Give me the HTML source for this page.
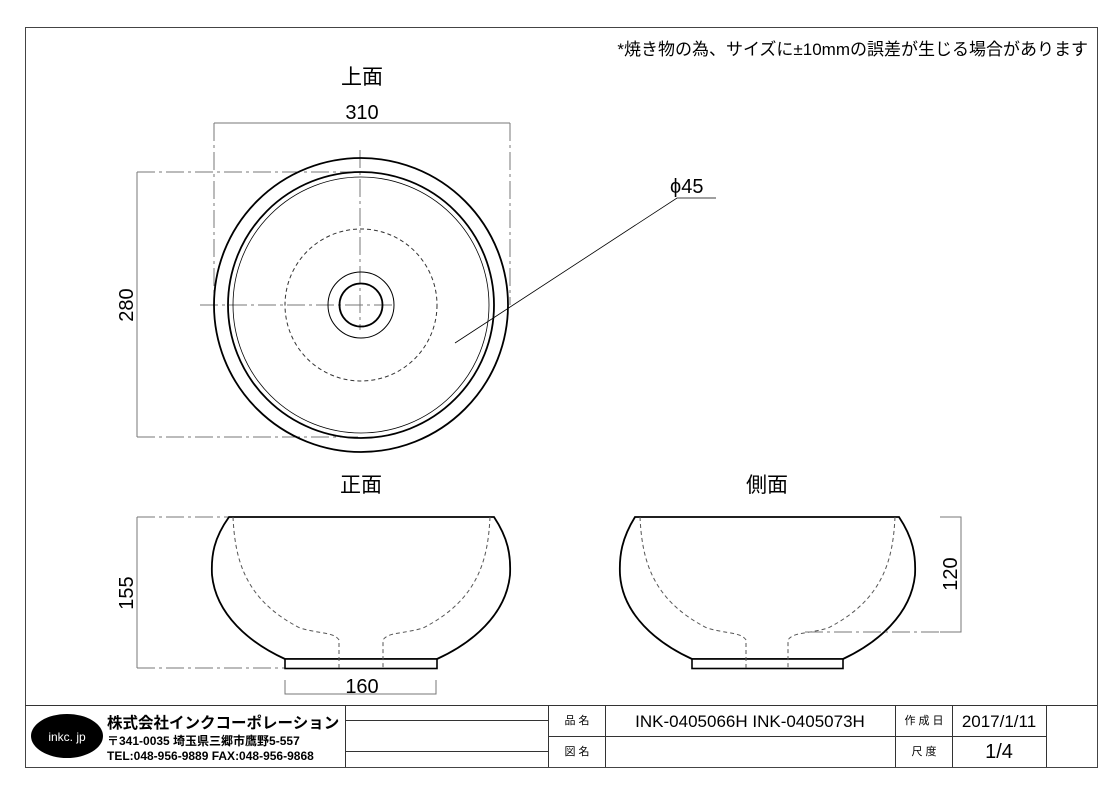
<!DOCTYPE html>
<html><head><meta charset="utf-8"><style>
body{margin:0;background:#fff}
svg{display:block}
text{font-family:"Liberation Sans","Noto Sans CJK JP",sans-serif;fill:#000}
</style></head><body>
<svg width="1120" height="792" viewBox="0 0 1120 792" xmlns="http://www.w3.org/2000/svg">
<rect x="0" y="0" width="1120" height="792" fill="#fff"/>
<rect x="25.5" y="27.5" width="1072" height="740" fill="none" stroke="#444" stroke-width="1"/>
<text x="1088" y="55" font-size="17" text-anchor="end">*焼き物の為、サイズに±10mmの誤差が生じる場合があります</text>

<text x="362" y="84" font-size="21" text-anchor="middle">上面</text>
<text x="362" y="119" font-size="20" text-anchor="middle">310</text>
<g stroke="#777" stroke-width="1" fill="none">
<path d="M214 123 H510"/>
<path d="M214 123 V305 M510 123 V305" stroke-dasharray="18,4,3,4"/>
<path d="M137 172 V437"/>
<path d="M137 172 H361 M137 437 H361" stroke-dasharray="18,4,3,4"/>
<path d="M200 305 H395 M360 150 V330" stroke-dasharray="18,4,3,4"/>
</g>
<text transform="translate(133,305) rotate(-90)" font-size="20" text-anchor="middle">280</text>
<circle cx="361" cy="305" r="147" fill="none" stroke="#000" stroke-width="1.8"/>
<circle cx="361" cy="305" r="133" fill="none" stroke="#000" stroke-width="1.8"/>
<circle cx="361" cy="305" r="128" fill="none" stroke="#000" stroke-width="0.8"/>
<circle cx="361" cy="305" r="76" fill="none" stroke="#333" stroke-width="1" stroke-dasharray="4,3"/>
<circle cx="361" cy="305" r="33" fill="none" stroke="#000" stroke-width="1"/>
<circle cx="361" cy="305" r="21.5" fill="none" stroke="#000" stroke-width="1.8"/>
<path d="M455 343 L677 198 H716" fill="none" stroke="#000" stroke-width="0.8"/>
<text x="670" y="193" font-size="20">ϕ45</text>

<text x="361" y="492" font-size="21" text-anchor="middle">正面</text>
<g stroke="#777" stroke-width="1" fill="none">
<path d="M137 517 V668"/>
<path d="M137 517 H229 M137 668 H285" stroke-dasharray="18,4,3,4"/>
<path d="M285 680 V694 H436 V680"/>
</g>
<text transform="translate(133,593) rotate(-90)" font-size="20" text-anchor="middle">155</text>
<text x="362" y="693" font-size="20" text-anchor="middle">160</text>
<path d="M229 517 H494 C508 538 511 555 510 575 C506 615 472 643 437 659 H285 C250 643 216 615 212 575 C211 555 214 538 229 517 Z" fill="none" stroke="#000" stroke-width="1.8"/>
<rect x="285" y="659" width="152" height="9.5" fill="#fff" stroke="#000" stroke-width="1.6"/>
<path d="M233 517 C235 560 245 600 300 628 C320 634 334 632 339 640 V668 M490 517 C488 560 478 600 423 628 C403 634 388 632 383 640 V668" fill="none" stroke="#555" stroke-width="1" stroke-dasharray="4,3"/>

<text x="767" y="492" font-size="21" text-anchor="middle">側面</text>
<path d="M635 517 H899 C913 538 916 555 915 575 C911 615 877 643 843 659 H692 C657 643 623 615 620 575 C619 555 622 538 635 517 Z" fill="none" stroke="#000" stroke-width="1.8"/>
<rect x="692" y="659" width="151" height="9.5" fill="#fff" stroke="#000" stroke-width="1.6"/>
<path d="M640 517 C642 560 652 600 707 628 C727 634 741 632 746 640 V668 M895 517 C893 560 883 600 828 628 C808 634 793 632 788 640 V668" fill="none" stroke="#555" stroke-width="1" stroke-dasharray="4,3"/>
<g stroke="#777" stroke-width="1" fill="none">
<path d="M940 517 H961 V632 H940"/>
<path d="M805 632 H940" stroke-dasharray="18,4,3,4"/>
</g>
<text transform="translate(957,574) rotate(-90)" font-size="20" text-anchor="middle">120</text>

<g stroke="#333" stroke-width="1" fill="none">
<path d="M25 705.5 H1097"/>
<path d="M345.5 705 V767 M548.5 705 V767 M605.5 705 V767 M895.5 705 V767 M952.5 705 V767 M1046.5 705 V767"/>
<path d="M345 720.5 H548 M345 751.5 H548 M548 736.5 H1046"/>
</g>
<ellipse cx="67" cy="736" rx="36" ry="22" fill="#000"/>
<text x="67" y="741" font-size="12" text-anchor="middle" style="fill:#fff">inkc. jp</text>
<text x="107" y="728" font-size="15.5" font-weight="bold">株式会社インクコーポレーション</text>
<text x="107" y="745" font-size="12" font-weight="bold">〒341-0035 埼玉県三郷市鷹野5-557</text>
<text x="107" y="760" font-size="12" font-weight="bold">TEL:048-956-9889  FAX:048-956-9868</text>
<text x="577" y="724" font-size="11" text-anchor="middle">品 名</text>
<text x="577" y="755" font-size="11" text-anchor="middle">図 名</text>
<text x="750" y="727" font-size="17" text-anchor="middle">INK-0405066H  INK-0405073H</text>
<text x="924" y="724" font-size="11" text-anchor="middle">作 成 日</text>
<text x="924" y="755" font-size="11" text-anchor="middle">尺 度</text>
<text x="999" y="727" font-size="17" text-anchor="middle">2017/1/11</text>
<text x="999" y="758" font-size="20" text-anchor="middle">1/4</text>
</svg>
</body></html>
